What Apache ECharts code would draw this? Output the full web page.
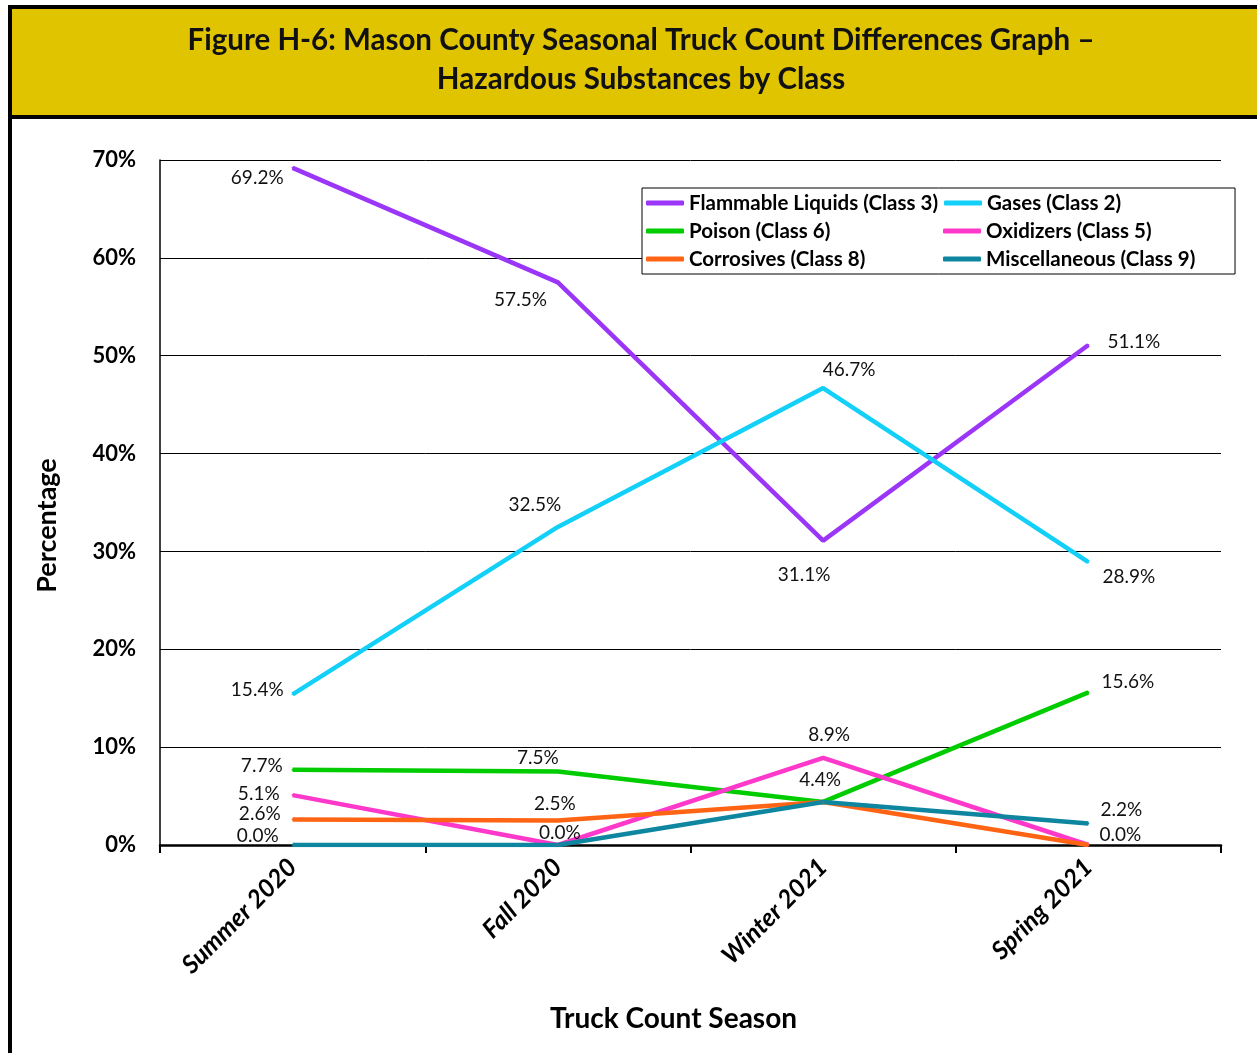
<!DOCTYPE html>
<html>
<head>
<meta charset="utf-8">
<title>Figure H-6</title>
<script src="https://cdn.jsdelivr.net/npm/echarts@6/dist/echarts.min.js"></script>
<style>
  html, body { margin: 0; padding: 0; background: #fff; }
  #chart { width: 1257px; height: 1053px; }
</style>
</head>
<body>
<div id="chart"></div>
<script>
// seasons on the x axis
const seasons = ['Summer 2020', 'Fall 2020', 'Winter 2021', 'Spring 2021'];

// percent of hazmat trucks by class
const flammable = [69.2, 57.5, 31.1, 51.1];
const gases = [15.4, 32.5, 46.7, 28.9];
const poison = [7.7, 7.5, 4.4, 15.6];
const oxidizers = [5.1, 0.0, 8.9, 0.0];
const corrosives = [2.6, 2.5, 4.4, 0.0];
const misc = [0.0, 0.0, 4.4, 2.2];

const yTicks = [0, 10, 20, 30, 40, 50, 60, 70];

// label placement per point: [position, distance, dx, dy, show]
// (points sitting on top of each other only get one label, like the original)
const LBL = {
  flammable: [['left', 8, 0, 10, 1], ['left', 10, 0, 18, 1], ['bottom', 5, -19, 19, 1], ['right', 18, 0, -3, 1]],
  gases:     [['left', 8, 0, -4, 1], ['top', 5, -23, -7, 1], ['top', 5, 26, -3, 1], ['right', 13, 0, 15, 1]],
  poison:    [['left', 9, 0, -4, 1], ['top', 5, -20, 2, 1], ['top', 5, -3, -7, 1], ['right', 12, 0, -10, 1]],
  oxidizers: [['left', 12, 0, -1, 1], ['top', 5, 2, 3, 1], ['top', 5, 6, -8, 1], ['right', 10, 0, -10, 1]],
  corrosives:[['left', 11, 0, -6, 1], ['top', 5, -3, -1, 1], ['top', 5, -3, -7, 0], ['right', 10, 0, -10, 0]],
  misc:      [['left', 13, 0, -9, 1], ['top', 5, 2, 3, 0], ['top', 5, -3, -7, 0], ['right', 11, 0, -14, 1]]
};

const FONT = 'Lato, "Open Sans", sans-serif';

function mkSeries(name, vals, color, lbl) {
  return {
    name,
    type: 'line',
    data: vals.map((v, i) => ({
      value: v,
      label: {
        show: !!lbl[i][4],
        position: lbl[i][0],
        distance: lbl[i][1],
        offset: [lbl[i][2], lbl[i][3]]
      }
    })),
    symbol: 'circle',
    symbolSize: 2,
    showSymbol: true,
    showAllSymbol: true,
    lineStyle: { color, width: 4.5 },
    itemStyle: { color },
    label: {
      show: true,
      color: '#111',
      fontFamily: FONT,
      fontSize: 19,
      formatter: p => p.value.toFixed(1) + '%'
    },
    animation: false
  };
}

const legendNames = ['Flammable Liquids (Class 3)', 'Gases (Class 2)', 'Poison (Class 6)',
  'Oxidizers (Class 5)', 'Corrosives (Class 8)', 'Miscellaneous (Class 9)'];
const colors = ['#9B35F7', '#12D0F8', '#00CC00', '#FF38CC', '#FF6414', '#0E86A0'];
const byName = {
  'Flammable Liquids (Class 3)': 0, 'Gases (Class 2)': 1, 'Poison (Class 6)': 2,
  'Oxidizers (Class 5)': 3, 'Corrosives (Class 8)': 4, 'Miscellaneous (Class 9)': 5
};

const chart = echarts.init(document.getElementById('chart'));
chart.setOption({
  animation: false,
  backgroundColor: '#fff',
  graphic: [
    { type: 'rect', shape: { x: 10, y: 7, width: 1260, height: 110 },
      style: { fill: '#E0C400', stroke: '#000', lineWidth: 4 }, z: 0 },
    { type: 'line', shape: { x1: 10, y1: 7, x2: 10, y2: 1053 },
      style: { stroke: '#000', lineWidth: 4 }, z: 1 }
  ],
  title: {
    text: 'Figure H-6: Mason County Seasonal Truck Count Differences Graph –\nHazardous Substances by Class',
    left: 636, top: 16, textAlign: 'center',
    textStyle: { fontFamily: FONT, fontWeight: 'bold', fontSize: 29.5, lineHeight: 39, color: '#111' }
  },
  legend: {
    left: 642, top: 188,
    width: 610,
    orient: 'horizontal',
    padding: [4, 0, 4, 4],
    itemGap: 6,
    itemWidth: 38, itemHeight: 5,
    icon: 'roundRect',
    backgroundColor: '#fff',
    borderColor: '#000', borderWidth: 1,
    textStyle: { fontFamily: FONT, fontWeight: 'bold', fontSize: 20.5, color: '#000', width: 248, lineHeight: 22 },
    data: legendNames.map(n => ({ name: n, itemStyle: { color: colors[byName[n]] } }))
  },
  grid: { left: 160, right: 36, top: 160, bottom: 208 },
  xAxis: {
    type: 'category',
    data: seasons,
    boundaryGap: true,
    name: 'Truck Count Season',
    nameLocation: 'middle',
    nameGap: 160,
    nameTextStyle: { fontFamily: FONT, fontWeight: 'bold', fontSize: 28, color: '#000', padding: [0, 34, 0, 0] },
    axisLine: { lineStyle: { color: '#000', width: 2.5 } },
    axisTick: { show: true, length: 8, lineStyle: { color: '#000', width: 2 } },
    axisLabel: {
      rotate: 45, margin: 18,
      fontFamily: FONT, fontWeight: 'bold', fontStyle: 'italic', fontSize: 25, color: '#000'
    },
    splitLine: { show: false }
  },
  yAxis: {
    type: 'value',
    min: 0, max: 70, interval: 10,
    name: 'Percentage',
    nameLocation: 'middle',
    nameGap: 99,
    nameRotate: 90,
    nameTextStyle: { fontFamily: FONT, fontWeight: 'bold', fontSize: 27, color: '#000', padding: [0, 46, 0, 0] },
    axisLine: { show: true, lineStyle: { color: '#000', width: 1.5 } },
    axisTick: { show: false },
    axisLabel: {
      margin: 24,
      fontFamily: FONT, fontWeight: 'bold', fontSize: 22, color: '#000',
      formatter: v => yTicks.includes(v) ? v + '%' : ''
    },
    splitLine: { lineStyle: { color: '#000', width: 1 } }
  },
  series: [
    mkSeries('Flammable Liquids (Class 3)', flammable, colors[0], LBL.flammable),
    mkSeries('Gases (Class 2)', gases, colors[1], LBL.gases),
    mkSeries('Poison (Class 6)', poison, colors[2], LBL.poison),
    mkSeries('Oxidizers (Class 5)', oxidizers, colors[3], LBL.oxidizers),
    mkSeries('Corrosives (Class 8)', corrosives, colors[4], LBL.corrosives),
    mkSeries('Miscellaneous (Class 9)', misc, colors[5], LBL.misc)
  ]
});
</script>
</body>
</html>
